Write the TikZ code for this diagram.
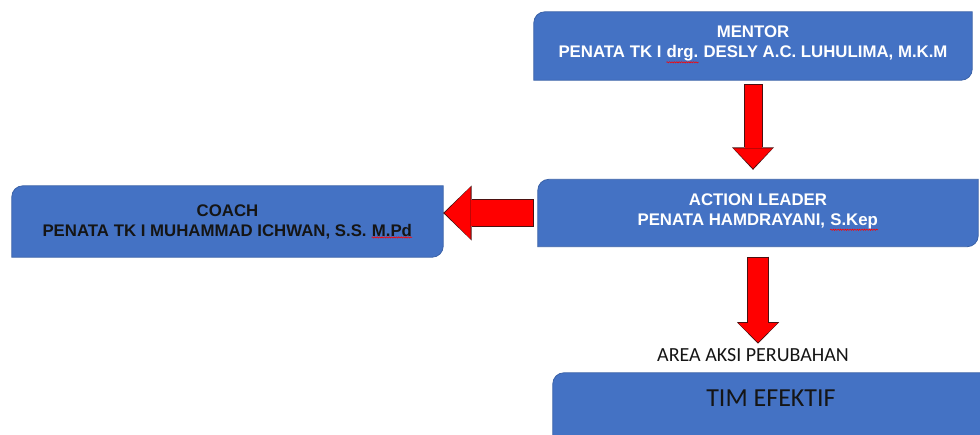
\documentclass[tikz,border=0pt]{standalone}
\usepackage{fontspec}
\setmainfont{Liberation Sans}
\newfontfamily\calibri{Carlito}
\usetikzlibrary{arrows.meta,calc,decorations.pathmorphing}

\definecolor{cardblue}{HTML}{4472C4}
\definecolor{cardedge}{HTML}{3A62A8}
\definecolor{arrowred}{HTML}{FF0000}
\definecolor{arrowedge}{HTML}{4A1010}
\definecolor{inkdark}{HTML}{151515}

% red wavy mark under words
\newcommand\spellmark[1]{\tikz[baseline=(sw.base), x=1pt, y=1pt]{\node[inner sep=0pt] (sw) {#1}; \draw[red, line width=0.6pt, decorate, decoration={snake, amplitude=0.6pt, segment length=2.4pt}] ([yshift=-1pt]sw.south west) -- ([yshift=-1pt]sw.south east);}}

\tikzset{
    card/.style={minimum width=#1, minimum height=68pt, inner sep=0pt},
    cardshape/.style={fill=cardblue, draw=cardedge, line width=0.8pt},
    cardtext/.style={align=center, inner sep=0pt, font=\bfseries\fontsize{16.8}{20}\selectfont},
}

\begin{document}
\begin{tikzpicture}[x=1pt, y=-1pt]
    \useasboundingbox (0,0) rectangle (980,434);
    \clip (0,0) rectangle (980,434);
    \fill[white] (0,0) rectangle (980,434);

    % Define the boxes with specific positions
    \node[card=438pt] (mentor) at (753, 46) {};
    \node[card=440pt, minimum height=67pt] (leader) at (758, 213) {};
    \node[card=431pt, minimum height=71pt] (coach) at (227.5, 221.5) {};
    \node[card=437pt] (tim) at (771.5, 407) {};

    % Box shapes, round at top left and bottom right
    \foreach \n in {mentor, leader, coach, tim}
        \draw[cardshape] (\n.north) -- (\n.north east) [rounded corners=11pt] -- (\n.south east) [sharp corners] -- (\n.south west) [rounded corners=11pt] -- (\n.north west) [sharp corners] -- (\n.north) -- cycle;

    % Texts in the boxes
    \node[cardtext, text=white] (mentortext) at ([yshift=1.5pt]mentor.center) {MENTOR\\PENATA TK I \spellmark{drg.} DESLY A.C. LUHULIMA, M.K.M};
    \node[cardtext, text=white] (leadertext) at ([yshift=1pt]leader.center) {ACTION LEADER\\PENATA HAMDRAYANI, \spellmark{S.Kep}};
    \node[cardtext, text=inkdark] (coachtext) at (coach.center) {COACH\\PENATA TK I MUHAMMAD ICHWAN, S.S. \spellmark{M.Pd}};
    \node[text=inkdark, font=\calibri\fontsize{26}{30}\selectfont, inner sep=0pt] (timtext) at (771, 398) {TIM EFEKTIF};
    \node[text=inkdark, font=\calibri\fontsize{20}{24}\selectfont, inner sep=1pt] (area) at (753, 355) {AREA AKSI PERUBAHAN};

    % Draw the block arrows between the boxes
    \draw[arrowedge, line width=19pt, shorten <=4pt, shorten >=9.5pt, -{Triangle[length=22.5pt, width=42pt, line width=0pt]}] (mentor.south) -- (mentor.south |- leader.north);
    \draw[arrowred, line width=17pt, shorten <=5pt, shorten >=11pt, -{Triangle[length=20pt, width=39pt, line width=0pt]}] (mentor.south) -- (mentor.south |- leader.north);

    \draw[arrowedge, line width=22pt, shorten <=10pt, shorten >=3.5pt, -{Triangle[length=21.5pt, width=42pt, line width=0pt]}] (leader.south) -- (leader.south |- area.north);
    \draw[arrowred, line width=20pt, shorten <=11pt, shorten >=5pt, -{Triangle[length=19pt, width=39pt, line width=0pt]}] (leader.south) -- (leader.south |- area.north);

    \draw[arrowedge, line width=28pt, shorten <=4pt, shorten >=0pt, -{Triangle[length=28.5pt, width=55pt, line width=0pt]}] (leader.west) -- (leader.west -| coach.east);
    \draw[arrowred, line width=26pt, shorten <=5pt, shorten >=1.5pt, -{Triangle[length=26pt, width=52pt, line width=0pt]}] (leader.west) -- (leader.west -| coach.east);
\end{tikzpicture}
\end{document}
